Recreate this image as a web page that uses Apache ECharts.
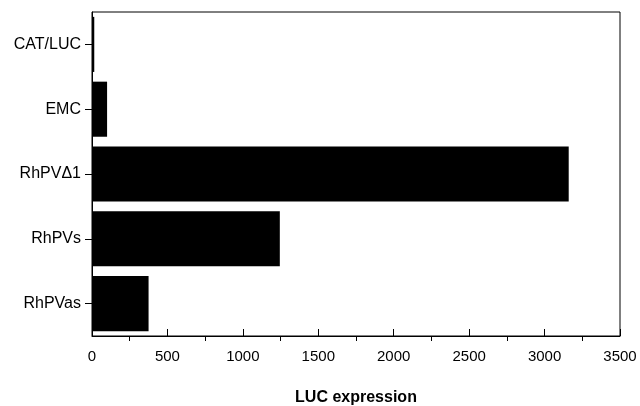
<!DOCTYPE html>
<html><head><meta charset="utf-8">
<script src="https://cdn.jsdelivr.net/npm/echarts@6/dist/echarts.min.js"></script>
<style>html,body{margin:0;padding:0;background:#fff}#c{width:640px;height:406px}</style>
</head><body><div id="c"></div>
<script>
var categories = ['RhPVas', 'RhPVs', 'RhPV\u03941', 'EMC', 'CAT/LUC'];
var values = [375, 1245, 3160, 100, 15];
var xTicks = [0, 500, 1000, 1500, 2000, 2500, 3000, 3500];
var minorTicks = [250, 750, 1250, 1750, 2250, 2750, 3250];

var chart = echarts.init(document.getElementById('c'));
var font = 'Arial, "Liberation Sans", sans-serif';
chart.setOption({
  animation: false,
  backgroundColor: '#fff',
  grid: {left: 92, right: 20, top: 12, bottom: 70, show: true, borderColor: '#000', borderWidth: 1,
    backgroundColor: 'transparent', containLabel: false, outerBoundsMode: 'none'},
  xAxis: [{
    type: 'value', min: 0, max: 3500, interval: 500,
    name: 'LUC expression', nameLocation: 'middle', nameGap: 54,
    nameTextStyle: {fontFamily: font, fontSize: 16, fontWeight: 'bold', color: '#000'},
    axisLine: {show: true, lineStyle: {color: '#000'}},
    axisTick: {show: true, inside: true, length: 7, lineStyle: {color: '#000'}},
    axisLabel: {fontFamily: font, fontSize: 15, color: '#000', margin: 13,
      customValues: xTicks, formatter: function (v) { return String(v); }},
    splitLine: {show: false}
  }, {
    type: 'value', min: 0, max: 3500, position: 'bottom', gridIndex: 0,
    axisLine: {show: false},
    axisTick: {show: true, inside: false, length: 5, customValues: minorTicks, lineStyle: {color: '#000'}},
    axisLabel: {show: false},
    splitLine: {show: false}
  }],
  yAxis: {
    type: 'category', data: categories,
    axisLine: {show: true, lineStyle: {color: '#000'}},
    axisTick: {show: true, alignWithLabel: true, length: 7, lineStyle: {color: '#000'}},
    axisLabel: {fontFamily: font, fontSize: 16, color: '#000', margin: 11},
    splitLine: {show: false}
  },
  series: [{
    type: 'bar', data: values, xAxisIndex: 0, barCategoryGap: '15%',
    itemStyle: {color: '#000'}
  }]
});
</script></body></html>
